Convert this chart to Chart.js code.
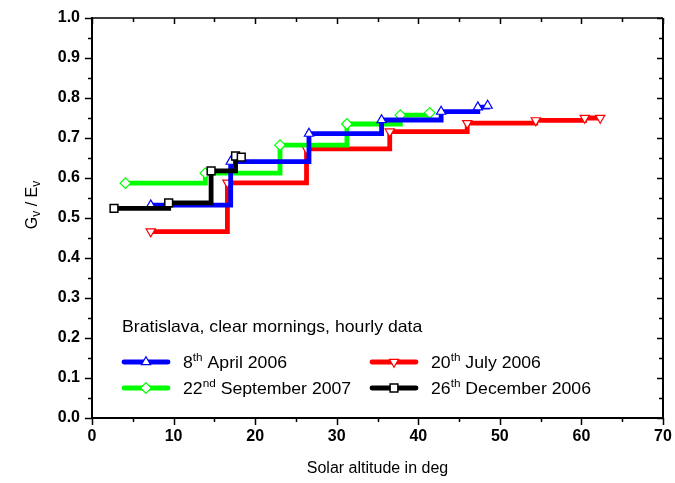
<!DOCTYPE html>
<html>
<head>
<meta charset="utf-8">
<title>Gv/Ev vs solar altitude</title>
<script src="https://cdn.jsdelivr.net/npm/chart.js@4.4.1/dist/chart.umd.min.js"></script>
<style>
  html, body { margin: 0; padding: 0; background: #fff; }
</style>
</head>
<body>
<canvas id="ratioChart" width="675" height="483"></canvas>
<script>
// hourly points, solar altitude (deg) against Gv/Ev
const aprilAlt = [7.2, 17.0, 26.6, 35.5, 42.8, 47.3, 48.5];
const aprilRatio = [0.532, 0.641, 0.711, 0.745, 0.766, 0.777, 0.781];
const julyAlt = [7.2, 16.6, 26.3, 36.5, 46.0, 54.4, 60.4, 62.3];
const julyRatio = [0.466, 0.588, 0.673, 0.716, 0.737, 0.744, 0.750, 0.750];
const septAlt = [4.1, 13.9, 23.05, 31.25, 37.8, 41.4];
const septRatio = [0.587, 0.612, 0.682, 0.735, 0.757, 0.763];
const decAlt = [2.7, 9.4, 14.6, 17.6, 18.3];
const decRatio = [0.524, 0.538, 0.618, 0.655, 0.652];

// legend text split as [number, superscript, rest]
const aprilLabel = ["8", "th", " April 2006"];
const julyLabel = ["20", "th", " July 2006"];
const septLabel = ["22", "nd", " September 2007"];
const decLabel = ["26", "th", " December 2006"];
const legendTitle = "Bratislava, clear mornings, hourly data";

const xTitle = "Solar altitude in deg";

const FONT = "'Liberation Sans', Arial, Helvetica, sans-serif";
const WIDEN = 1.07; // legend text is drawn a little wide

function toPoints(xs, ys) {
  return xs.map((x, i) => ({ x: x, y: ys[i] }));
}

function series(label, xs, ys, color, style, rot, order) {
  return {
    label: label.join(""),
    legendParts: label,
    data: toPoints(xs, ys),
    borderColor: color,
    backgroundColor: "#fff",
    borderWidth: 4.8,
    stepped: "before",
    pointStyle: style,
    pointRotation: rot,
    pointRadius: style === "rect" ? 5.5 : 5.3,
    pointBorderColor: color,
    pointBackgroundColor: "#fff",
    pointBorderWidth: style === "rect" ? 1.5 : 1.2,
    order: order
  };
}

const datasets = [
  series(aprilLabel, aprilAlt, aprilRatio, "#0000ff", "triangle", 0, 1),
  series(julyLabel, julyAlt, julyRatio, "#ff0000", "triangle", 180, 3),
  series(septLabel, septAlt, septRatio, "#00ff00", "rectRot", 0, 2),
  series(decLabel, decAlt, decRatio, "#000000", "rect", 0, 0)
];

// text with a raised part, e.g. 8th (x, y already in widened space)
function drawSupText(ctx, parts, x, y) {
  ctx.font = "16.5px " + FONT;
  ctx.fillText(parts[0], x, y);
  x += ctx.measureText(parts[0]).width;
  ctx.font = "11px " + FONT;
  ctx.fillText(parts[1], x, y - 7);
  x += ctx.measureText(parts[1]).width;
  ctx.font = "16.5px " + FONT;
  ctx.fillText(parts[2], x, y);
}

// box frame with minor ticks, inward on top/right
const frameTicks = {
  id: "frameTicks",
  afterDraw(chart) {
    const ctx = chart.ctx;
    const a = chart.chartArea;
    const xs = chart.scales.x;
    const ys = chart.scales.y;
    ctx.save();
    ctx.strokeStyle = "#000";
    ctx.lineWidth = 1.5;
    ctx.beginPath();
    ctx.moveTo(a.left, a.top);
    ctx.lineTo(a.right, a.top);
    ctx.stroke();
    ctx.lineWidth = 2;
    ctx.beginPath();
    ctx.moveTo(a.right, a.top);
    ctx.lineTo(a.right, a.bottom + 1);
    ctx.stroke();

    ctx.lineWidth = 1.5;
    const xStep = 10, yStep = 0.1;
    ctx.beginPath();
    xs.ticks.forEach(t => {
      const px = Math.round(xs.getPixelForValue(t.value)) + 0.5;
      ctx.moveTo(px, a.bottom); ctx.lineTo(px, a.bottom + 7);
      ctx.moveTo(px, a.top); ctx.lineTo(px, a.top + 6);
      if (t.value + xStep / 2 < xs.max) {
        const pm = Math.round(xs.getPixelForValue(t.value + xStep / 2)) + 0.5;
        ctx.moveTo(pm, a.bottom); ctx.lineTo(pm, a.bottom + 4);
        ctx.moveTo(pm, a.top); ctx.lineTo(pm, a.top + 4);
      }
    });
    ys.ticks.forEach(t => {
      const py = Math.round(ys.getPixelForValue(t.value)) + 0.5;
      ctx.moveTo(a.left, py); ctx.lineTo(a.left - 7, py);
      ctx.moveTo(a.right, py); ctx.lineTo(a.right - 6, py);
      if (t.value + yStep / 2 < ys.max) {
        const pm = Math.round(ys.getPixelForValue(t.value + yStep / 2)) + 0.5;
        ctx.moveTo(a.left, pm); ctx.lineTo(a.left - 4, pm);
        ctx.moveTo(a.right, pm); ctx.lineTo(a.right - 4, pm);
      }
    });
    ctx.stroke();

    // y title: Gv / Ev with subscripts, rotated
    ctx.fillStyle = "#000";
    ctx.textBaseline = "alphabetic";
    ctx.textAlign = "left";
    const pieces = [["G", 16, 0], ["v", 12, 3], [" / E", 16, 0], ["v", 12, 3]];
    let total = 0;
    pieces.forEach(p => { ctx.font = p[1] + "px " + FONT; total += ctx.measureText(p[0]).width; });
    const cy = (a.top + a.bottom) / 2 - 13;
    ctx.save();
    ctx.translate(37, cy + total / 2);
    ctx.rotate(-Math.PI / 2);
    let u = 0;
    pieces.forEach(p => {
      ctx.font = p[1] + "px " + FONT;
      ctx.fillText(p[0], u, p[2]);
      u += ctx.measureText(p[0]).width;
    });
    ctx.restore();
    ctx.restore();
  }
};

// legend inside the plot: title, then two columns of entries
const insideLegend = {
  id: "insideLegend",
  afterDraw(chart) {
    const ctx = chart.ctx;
    const helpers = Chart.helpers;
    ctx.save();
    ctx.fillStyle = "#000";
    ctx.textBaseline = "alphabetic";
    ctx.textAlign = "left";

    ctx.save();
    ctx.translate(122, 332);
    ctx.scale(WIDEN, 1);
    ctx.font = "16.5px " + FONT;
    ctx.fillText(legendTitle, 0, 0);
    ctx.restore();

    const slots = [[122, 362], [370, 362], [122, 388], [370, 388]];
    chart.data.datasets.forEach((ds, i) => {
      const [lx, ly] = slots[i];
      ctx.strokeStyle = ds.borderColor;
      ctx.lineWidth = 4.8;
      ctx.lineCap = "round";
      ctx.beginPath();
      ctx.moveTo(lx + 2, ly);
      ctx.lineTo(lx + 46, ly);
      ctx.stroke();
      ctx.lineCap = "butt";
      ctx.fillStyle = "#fff";
      ctx.strokeStyle = ds.pointBorderColor;
      ctx.lineWidth = ds.pointBorderWidth;
      helpers.drawPoint(ctx, {
        pointStyle: ds.pointStyle,
        rotation: ds.pointRotation,
        radius: ds.pointRadius,
        borderWidth: ds.pointBorderWidth
      }, lx + 24, ly);
      ctx.fillStyle = "#000";
      ctx.save();
      ctx.translate(lx + 61, ly + 6);
      ctx.scale(WIDEN, 1);
      drawSupText(ctx, ds.legendParts, 0, 0);
      ctx.restore();
    });
    ctx.restore();
  }
};

new Chart(document.getElementById("ratioChart"), {
  type: "line",
  data: { datasets: datasets },
  options: {
    responsive: false,
    animation: false,
    layout: { padding: { top: 18, right: 12, left: 0, bottom: 0 } },
    plugins: {
      legend: { display: false },
      tooltip: { enabled: false }
    },
    scales: {
      x: {
        type: "linear",
        min: 0,
        max: 70,
        grid: { display: false, drawTicks: false },
        border: { display: true, color: "#000", width: 2 },
        ticks: {
          stepSize: 10,
          padding: 9,
          color: "#000",
          font: { family: FONT, size: 16, weight: "bold" }
        },
        title: {
          display: true,
          text: xTitle,
          color: "#000",
          font: { family: FONT, size: 16 },
          padding: { top: 0, bottom: 5 }
        },
        afterFit: s => {
          s.height = 65;
          s.paddingLeft = 0;
          s.paddingRight = 0;
        }
      },
      y: {
        type: "linear",
        min: 0,
        max: 1,
        grid: { display: false, drawTicks: false },
        border: { display: true, color: "#000", width: 2 },
        ticks: {
          stepSize: 0.1,
          padding: 12,
          color: "#000",
          font: { family: FONT, size: 16, weight: "bold" },
          callback: v => v.toFixed(1)
        },
        afterFit: s => {
          s.width = 92;
          s.paddingTop = 0;
          s.paddingBottom = 0;
        }
      }
    }
  },
  plugins: [frameTicks, insideLegend]
});
</script>
</body>
</html>
